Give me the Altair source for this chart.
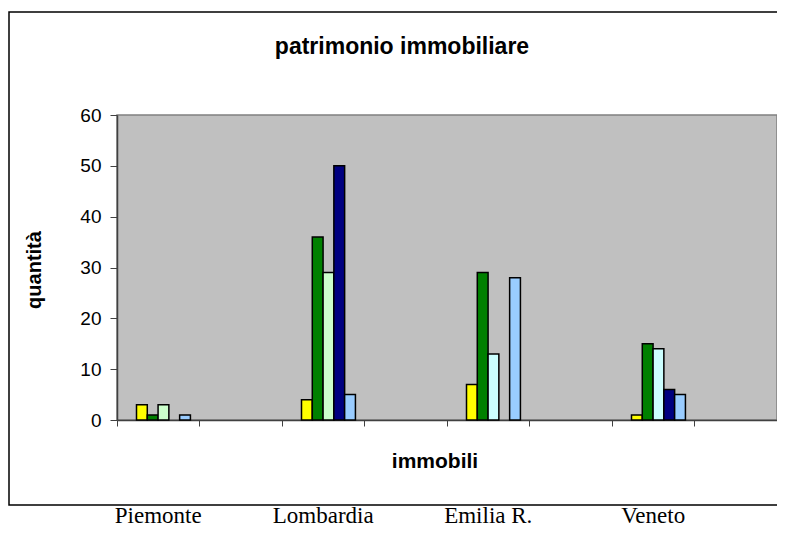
import altair as alt
import pandas as pd

# ---- data ----
categories = ["Piemonte", "gap1", "Lombardia", "gap2", "Emilia R.", "gap3", "Veneto", "gap4"]
regions = ["Piemonte", "Lombardia", "Emilia R.", "Veneto"]
series_names = ["A", "B", "C", "D", "E", "F"]
series_slot = ["1", "2", "3", "3", "4", "5"]
slot_domain = ["0", "1", "2", "3", "4", "5"]
series_colors = ["#FFFF00", "#008000", "#CCFFCC", "#CCFFFF", "#000080", "#99CCFF"]
values_A = [3, 4, 7, 1]
values_B = [1, 36, 29, 15]
values_C = [3, 29, 0, 0]
values_D = [0, 0, 13, 14]
values_E = [0, 50, 0, 6]
values_F = [1, 5, 28, 5]
y_ticks = [0, 10, 20, 30, 40, 50, 60]
title_text = "patrimonio immobiliare"
y_title = "quantità"
x_title = "immobili"

series_values = [values_A, values_B, values_C, values_D, values_E, values_F]
rows = []
for name, slot, vals in zip(series_names, series_slot, series_values):
    for reg, v in zip(regions, vals):
        if v > 0:
            rows.append({"cat": reg, "slot": slot, "series": name, "v": v})
df = pd.DataFrame(rows)
df_regions = pd.DataFrame({"cat": regions})
one = pd.DataFrame({"t": [0]})

SANS = "Liberation Sans, Arial, sans-serif"
W, H = 660, 305

x_scale = alt.Scale(domain=categories, paddingInner=0, paddingOuter=0)

bars = alt.Chart(df).mark_bar(stroke="black", strokeWidth=1.5).encode(
    x=alt.X("cat:N", scale=x_scale, sort=categories,
            axis=alt.Axis(labels=False, title=None, bandPosition=0, tickSize=6,
                          tickColor="#404040", domainColor="#404040", domainWidth=1.5,
                          tickWidth=1)),
    xOffset=alt.XOffset("slot:N", scale=alt.Scale(domain=slot_domain,
                                                 paddingInner=0, paddingOuter=0.825, align=0.49)),
    y=alt.Y("v:Q", scale=alt.Scale(domain=[0, 60], nice=False),
            axis=alt.Axis(values=y_ticks, title=None, grid=False, tickSize=7, labelPadding=9,
                          labelFont=SANS, labelFontSize=19, labelColor="black",
                          tickColor="#404040", domainColor="#404040", domainWidth=1.5)),
    color=alt.Color("series:N", scale=alt.Scale(domain=series_names, range=series_colors), legend=None),
)

labels = alt.Chart(df_regions).mark_text(font="Liberation Serif, Times New Roman, serif", fontSize=23,
                                         baseline="alphabetic", color="black").encode(
    x=alt.X("cat:N", scale=x_scale, sort=categories),
    y=alt.value(408),
    text="cat:N",
)

border = alt.Chart(one).mark_rect(fill="transparent", stroke="black", strokeWidth=1.5).encode(
    x=alt.value(-108), x2=alt.value(690), y=alt.value(-103), y2=alt.value(390)
)

title_t = alt.Chart(one).mark_text(font=SANS, fontSize=23, fontWeight="bold", color="black",
                                   baseline="middle").encode(
    x=alt.value(285), y=alt.value(-68), text=alt.value(title_text))

ytitle_t = alt.Chart(one).mark_text(font=SANS, fontSize=20, fontWeight="bold", color="black",
                                    baseline="middle", angle=270).encode(
    x=alt.value(-82), y=alt.value(155), text=alt.value(y_title))

xtitle_t = alt.Chart(one).mark_text(font=SANS, fontSize=21, fontWeight="bold", color="black",
                                    baseline="middle").encode(
    x=alt.value(318), y=alt.value(347), text=alt.value(x_title))

chart = alt.layer(border, bars, labels, title_t, ytitle_t, xtitle_t).properties(
    width=W, height=H,
    autosize=alt.AutoSizeParams(type="none"),
    padding={"left": 109, "top": 107, "right": 0, "bottom": 109},
    background="white",
).configure_view(fill="#C0C0C0", stroke="#808080", strokeWidth=1.5)

chart.save("out.html", embed_options={"renderer": "svg", "actions": False})
